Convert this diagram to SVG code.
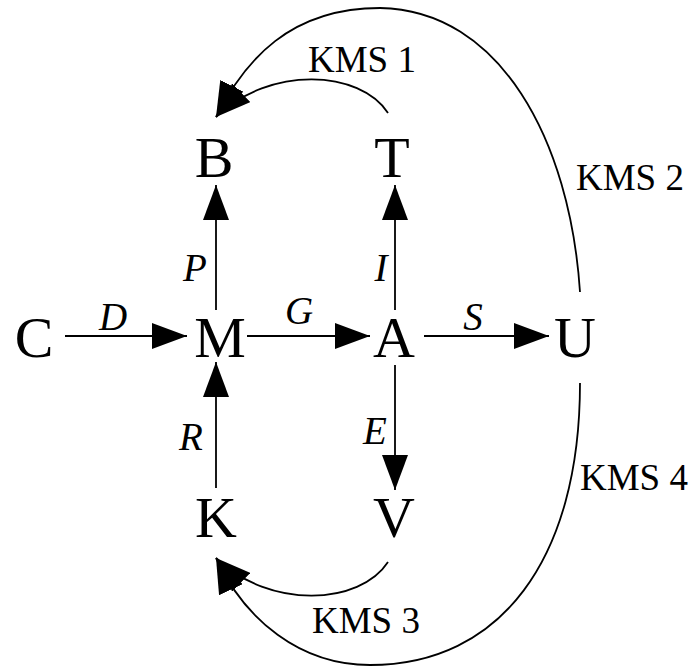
<svg xmlns="http://www.w3.org/2000/svg" width="699" height="667" viewBox="0 0 699 667">
<style>
.n{font-family:"Liberation Serif","Times New Roman",serif;font-size:58px;text-anchor:middle;fill:#000}
.l{font-family:"Liberation Serif","Times New Roman",serif;font-size:39px;font-style:italic;text-anchor:middle;fill:#000}
.k{font-family:"Liberation Serif","Times New Roman",serif;font-size:37px;fill:#000}
.e{fill:none;stroke:#000;stroke-width:1.8;marker-end:url(#ah)}
</style>
<defs>
<marker id="ah" markerUnits="userSpaceOnUse" markerWidth="36" markerHeight="26" refX="35" refY="13" orient="auto" viewBox="0 0 36 26">
<path d="M0,0 L35,13 L0,26 z" fill="#000"/>
</marker>
</defs>
<rect width="699" height="667" fill="#fff"/>
<g id="connectors">
<path class="e" d="M65,336 L187,336"/>
<path class="e" d="M247,336 L370,336"/>
<path class="e" d="M424,336 L549,336"/>
<path class="e" d="M216,310 L216,185"/>
<path class="e" d="M395,310 L395,185"/>
<path class="e" d="M216,488 L216,362"/>
<path class="e" d="M395,365 L395,490"/>
<path class="e" d="M388,113 C360,70 270,65 216,117"/>
<path class="e" d="M580,292 C570,140 500,10 380,8 C290,8 245,60 216,117"/>
<path class="e" d="M388,562 C360,605 270,610 216,558"/>
<path class="e" d="M580,383 C580,560 500,665 370,665 C300,665 245,620 216,558"/>
<text class="l" x="195" y="281">P</text>
<text class="l" x="381" y="281">I</text>
<text class="l" x="113" y="330">D</text>
<text class="l" x="299" y="324">G</text>
<text class="l" x="473" y="330">S</text>
<text class="l" x="191" y="450">R</text>
<text class="l" x="375" y="444">E</text>
<text class="k" x="308" y="72">KMS 1</text>
<text class="k" x="576" y="190">KMS 2</text>
<text class="k" x="312" y="633">KMS 3</text>
<text class="k" x="580" y="490">KMS 4</text>
</g>
<g id="B"><text class="n" x="214" y="177">B</text></g>
<g id="T"><text class="n" x="392" y="177">T</text></g>
<g id="C"><text class="n" x="34" y="357">C</text></g>
<g id="M"><text class="n" x="220" y="357">M</text></g>
<g id="A"><text class="n" x="394" y="357">A</text></g>
<g id="U"><text class="n" x="575" y="357">U</text></g>
<g id="K"><text class="n" x="216" y="537">K</text></g>
<g id="V"><text class="n" x="394" y="537">V</text></g>
</svg>
